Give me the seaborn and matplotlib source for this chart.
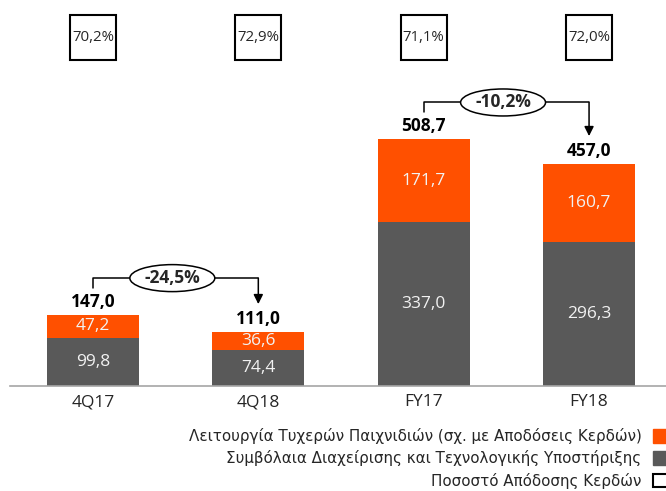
import matplotlib
matplotlib.use("Agg")
import matplotlib.pyplot as plt
import matplotlib.patches as mpatches
import seaborn as sns
import pandas as pd

# Data
categories = ["4Q17", "4Q18", "FY17", "FY18"]
gaming_ops = [47.2, 36.6, 171.7, 160.7]
contracts = [99.8, 74.4, 337.0, 296.3]
totals = [147.0, 111.0, 508.7, 457.0]
payout = ["70,2%", "72,9%", "71,1%", "72,0%"]
changes = ["-24,5%", "-10,2%"]
legend_labels = ["Λειτουργία Τυχερών Παιχνιδιών (σχ. με Αποδόσεις Κερδών)",
                 "Συμβόλαια Διαχείρισης και Τεχνολογικής Υποστήριξης",
                 "Ποσοστό Απόδοσης Κερδών"]

orange = "#FF5000"
gray = "#595959"

sns.set_style("white")
plt.rcParams["font.family"] = ["Open Sans", "DejaVu Sans"]

df = pd.DataFrame({"cat": categories, "top": gaming_ops, "bottom": contracts, "total": totals})

fig = plt.figure(figsize=(6.66, 4.91), dpi=100)
ax = fig.add_axes([10 / 666, 105 / 491, 656 / 666, 386 / 491])

bw = 92 / 165.5
sns.barplot(data=df, x="cat", y="total", color=orange, width=bw, saturation=1,
            linewidth=0, ax=ax)
sns.barplot(data=df, x="cat", y="bottom", color=gray, width=bw, saturation=1,
            linewidth=0, ax=ax)

px = 0.4856  # pixels per unit
ax.set_ylim(0, 386 / px)
ax.set_xlim(-83 / 165.5, 3 + 77 / 165.5)

for s in ["top", "left", "right"]:
    ax.spines[s].set_visible(False)
ax.spines["bottom"].set_color("#A6A6A6")
ax.spines["bottom"].set_linewidth(1.2)
ax.set_yticks([])
ax.set_xlabel("")
ax.set_ylabel("")
ax.tick_params(axis="x", length=0, pad=6, labelsize=12.5, labelcolor="#262626")

# values inside bars and totals
for i in range(len(categories)):
    ax.text(i, contracts[i] / 2, f"{contracts[i]:.1f}".replace(".", ","),
            ha="center", va="center", color="#F2F2F2", fontsize=12.5)
    ax.text(i, contracts[i] + gaming_ops[i] / 2, f"{gaming_ops[i]:.1f}".replace(".", ","),
            ha="center", va="center", color="#F2F2F2", fontsize=12.5)
    ax.text(i, totals[i] + 4 / px, f"{totals[i]:.1f}".replace(".", ","),
            ha="center", va="bottom", color="black", fontsize=12.5, fontweight="bold")

# payout boxes
for i, p in enumerate(payout):
    bx_w = 46 / 165.5
    bx_h = 45 / px
    yc = (386 - 38) / px
    ax.add_patch(mpatches.Rectangle((i - bx_w / 2, yc - bx_h / 2), bx_w, bx_h,
                                    fill=False, edgecolor="black", lw=1.5, clip_on=False))
    ax.text(i, yc, p, ha="center", va="center", fontsize=10.8, color="#262626")

# change arrows
for k, (a, b) in enumerate([(0, 1), (2, 3)]):
    ytop = totals[a] + 36.5 / px
    ystart = totals[a] + 27 / px
    yend = totals[b] + 28 / px
    ax.plot([a, a, b], [ystart, ytop, ytop], color="black", lw=1.1)
    ax.annotate("", xy=(b, yend), xytext=(b, ytop),
                arrowprops=dict(arrowstyle="-|>", color="black", lw=1.1,
                                mutation_scale=14, shrinkA=0, shrinkB=0))
    xc = (a + b) / 2 - 0.02
    ax.add_patch(mpatches.Ellipse((xc, ytop), 85 / 165.5, 27 / px, facecolor="white",
                                  edgecolor="black", lw=1.1, zorder=3))
    ax.text(xc, ytop, changes[k], ha="center", va="center", fontsize=12.5,
            fontweight="bold", zorder=4)

handles = [mpatches.Patch(facecolor=orange, edgecolor=orange),
           mpatches.Patch(facecolor=gray, edgecolor=gray),
           mpatches.Patch(facecolor="white", edgecolor="black", lw=1.5)]
fig.legend(handles, legend_labels, loc="upper right", bbox_to_anchor=(668 / 666, 1 - 428 / 491),
           frameon=False, markerfirst=False, handlelength=1.0, handleheight=1.0,
           handletextpad=0.75, labelspacing=0.42, borderpad=0, borderaxespad=0,
           prop={"family": "DejaVu Sans", "size": 10.9})

fig.savefig("out.png", dpi=100)
